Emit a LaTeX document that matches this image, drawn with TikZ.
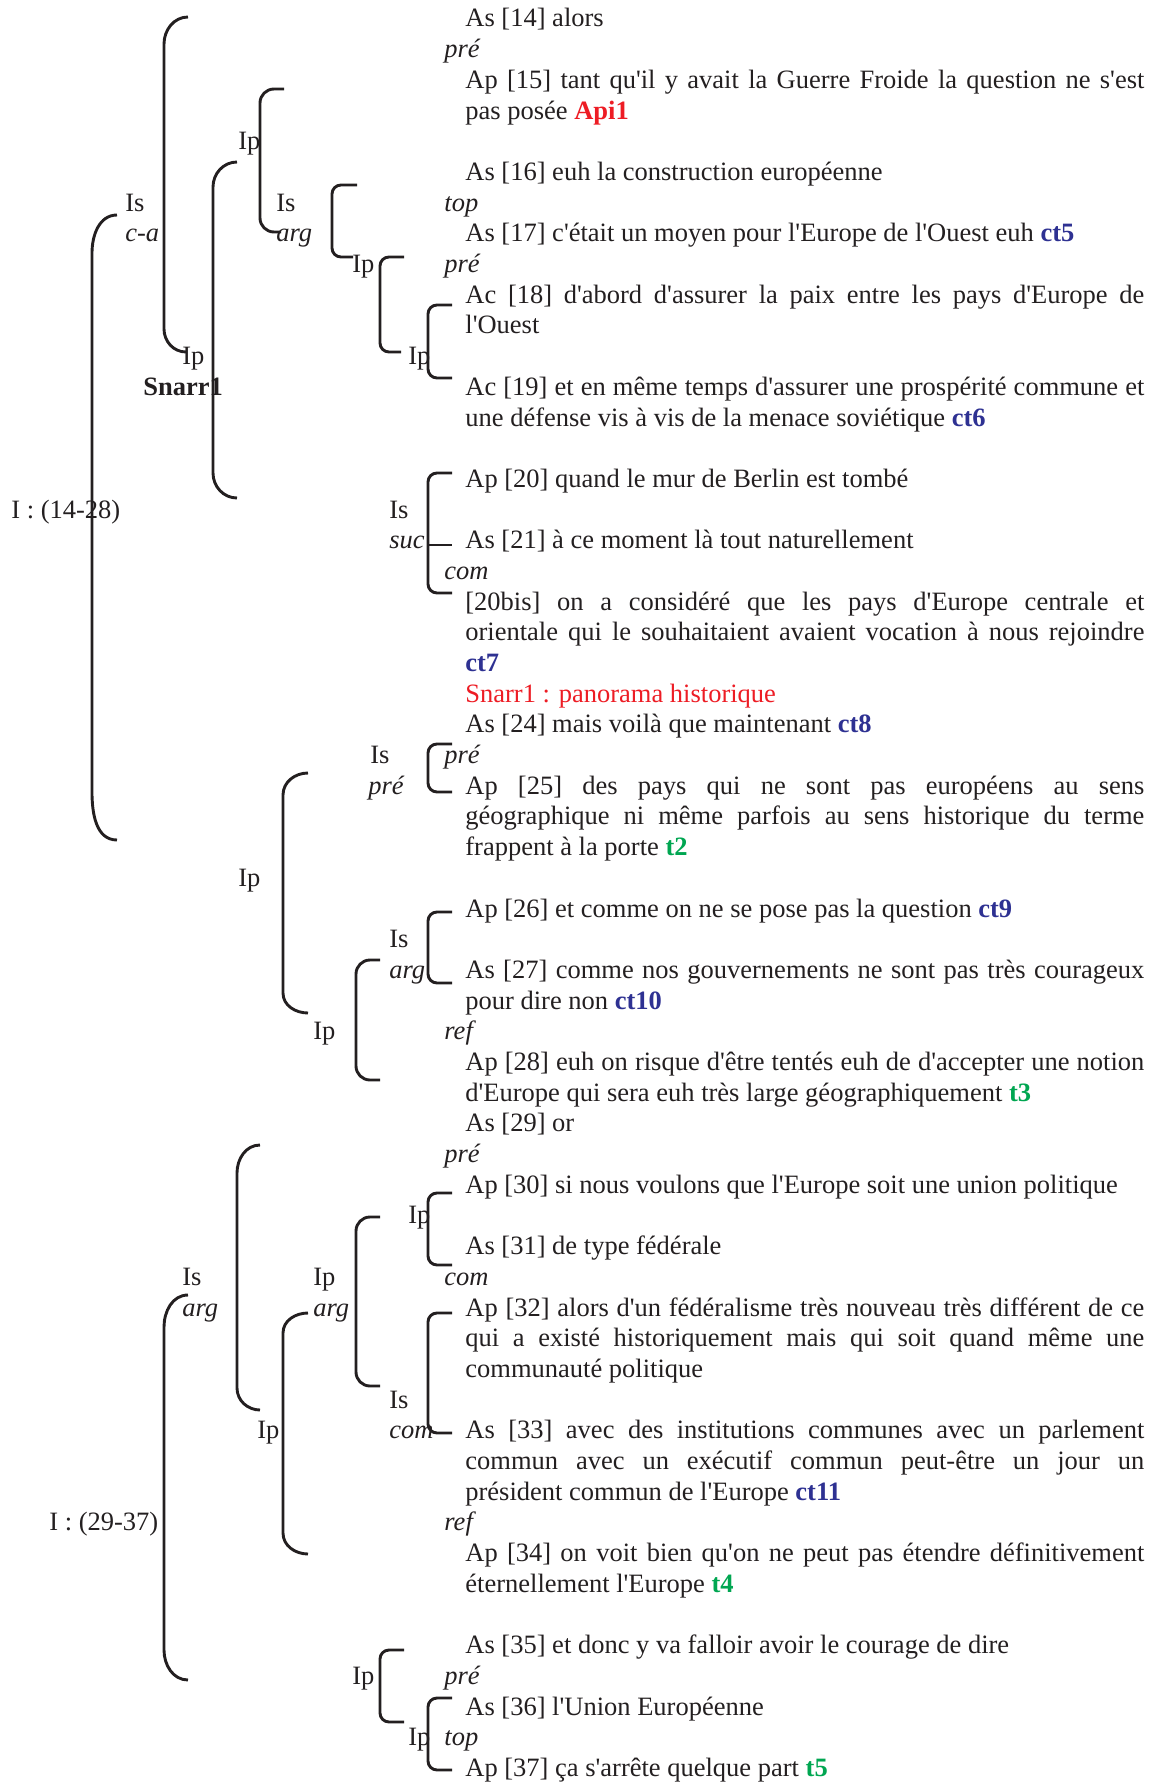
\documentclass[tikz,border=0pt]{standalone}
\usepackage{fontspec}
\setmainfont{Liberation Serif}[Ligatures=TeXOff]
\usepackage{xcolor}
\usepackage{tikz}
\definecolor{ink}{RGB}{35, 31, 32}
\definecolor{markred}{RGB}{237, 28, 36}
\definecolor{markblue}{RGB}{46, 49, 146}
\definecolor{markgreen}{RGB}{0, 166, 81}
\newcommand{\seg}{\fontsize{13.25pt}{15.35pt}\selectfont}
\newcommand{\ct}[1]{\textcolor{markblue}{\textbf{#1}}}
\newcommand{\tg}[1]{\textcolor{markgreen}{\textbf{#1}}}
\newcommand{\justline}[1]{\makebox[339.5pt][s]{#1}}

\begin{document}
\begin{tikzpicture}[
  x=0.5pt, y=-0.5pt,
  txt/.style={anchor=base west, inner sep=0pt, text=ink, font=\seg},
  rel/.style={txt, font=\seg\itshape},
  lab/.style={txt},
  brk/.style={draw=ink, line width=1.45pt},
  brkM/.style={brk, rounded corners=7pt},
  brkS/.style={brk, rounded corners=4.5pt}
]
\useasboundingbox (0,0) rectangle (1157,1782);

% Segments, I : (14-28)
\node[txt] (s14) at (465,27) {As [14] alors};
\node[rel] (r15) at (444,57.7) {pré};
\node[txt] (s15a) at (465,88.4) {\justline{Ap [15] tant qu'il y avait la Guerre Froide la question ne s'est}};
\node[txt] (s15b) at (465,119.1) {pas posée \textcolor{markred}{\textbf{Api1}}};
\node[txt] (s16) at (465,180.5) {As [16] euh la construction européenne};
\node[rel] (r17) at (444,211.1) {top};
\node[txt] (s17) at (465,241.8) {As [17] c'était un moyen pour l'Europe de l'Ouest euh \ct{ct5}};
\node[rel] (r18) at (444,272.5) {pré};
\node[txt] (s18a) at (465,303.2) {\justline{Ac [18] d'abord d'assurer la paix entre les pays d'Europe de}};
\node[txt] (s18b) at (465,333.9) {l'Ouest};
\node[txt] (s19a) at (465,395.3) {\justline{Ac [19] et en même temps d'assurer une prospérité commune et}};
\node[txt] (s19b) at (465,426) {une défense vis à vis de la menace soviétique \ct{ct6}};
\node[txt] (s20) at (465,487.4) {Ap [20] quand le mur de Berlin est tombé};
\node[txt] (s21) at (465,548.7) {As [21] à ce moment là tout naturellement};
\node[rel] (r20b) at (444,579.4) {com};
\node[txt] (s20ba) at (465,610.1) {\justline{[20bis] on a considéré que les pays d'Europe centrale et}};
\node[txt] (s20bb) at (465,640.8) {\justline{orientale qui le souhaitaient avaient vocation à nous rejoindre}};
\node[txt] (s20bc) at (465,671.5) {\ct{ct7}};
\node[txt, text=markred] (snarr) at (465,702.2) {Snarr1 : panorama historique};
\node[txt] (s24) at (465,732.9) {As [24] mais voilà que maintenant \ct{ct8}};
\node[rel] (r25) at (444,763.6) {pré};
\node[txt] (s25a) at (465,794.3) {\justline{Ap [25] des pays qui ne sont pas européens au sens}};
\node[txt] (s25b) at (465,824.9) {\justline{géographique ni même parfois au sens historique du terme}};
\node[txt] (s25c) at (465,855.6) {frappent à la porte \tg{t2}};
\node[txt] (s26) at (465,917) {Ap [26] et comme on ne se pose pas la question \ct{ct9}};
\node[txt] (s27a) at (465,978.4) {\justline{As [27] comme nos gouvernements ne sont pas très courageux}};
\node[txt] (s27b) at (465,1009.1) {pour dire non \ct{ct10}};
\node[rel] (r28) at (444,1039.8) {ref};
\node[txt] (s28a) at (465,1070.5) {\justline{Ap [28] euh on risque d'être tentés euh de d'accepter une notion}};
\node[txt] (s28b) at (465,1101.2) {d'Europe qui sera euh très large géographiquement \tg{t3}};

% Segments, I : (29-37)
\node[txt] (s29) at (465,1131.8) {As [29] or};
\node[rel] (r30) at (444,1162.5) {pré};
\node[txt] (s30) at (465,1193.2) {Ap [30] si nous voulons que l'Europe soit une union politique};
\node[txt] (s31) at (465,1254.6) {As [31] de type fédérale};
\node[rel] (r32) at (444,1285.3) {com};
\node[txt] (s32a) at (465,1316) {\justline{Ap [32] alors d'un fédéralisme très nouveau très différent de ce}};
\node[txt] (s32b) at (465,1346.7) {\justline{qui a existé historiquement mais qui soit quand même une}};
\node[txt] (s32c) at (465,1377.4) {communauté politique};
\node[txt] (s33a) at (465,1438.7) {\justline{As [33] avec des institutions communes avec un parlement}};
\node[txt] (s33b) at (465,1469.4) {\justline{commun avec un exécutif commun peut-être un jour un}};
\node[txt] (s33c) at (465,1500.1) {président commun de l'Europe \ct{ct11}};
\node[rel] (r34) at (444,1530.8) {ref};
\node[txt] (s34a) at (465,1561.5) {\justline{Ap [34] on voit bien qu'on ne peut pas étendre définitivement}};
\node[txt] (s34b) at (465,1592.2) {éternellement l'Europe \tg{t4}};
\node[txt] (s35) at (465,1653.6) {As [35] et donc y va falloir avoir le courage de dire};
\node[rel] (r36) at (444,1684.3) {pré};
\node[txt] (s36) at (465,1715) {As [36] l'Union Européenne};
\node[rel] (r37) at (444,1745.6) {top};
\node[txt] (s37) at (465,1776.3) {Ap [37] ça s'arrête quelque part \tg{t5}};

% Tree labels
\node[lab] (ia) at (11,518) {I : (14-28)};
\node[lab] (isca) at (125,211.1) {Is};
\node[rel] (ca) at (125,241.8) {c-a};
\node[lab] (ipa) at (238,149.8) {Ip};
\node[lab] (isarga) at (276,211.1) {Is};
\node[rel] (arga) at (276,241.8) {arg};
\node[lab] (ipb) at (352,272.5) {Ip};
\node[lab] (ipc) at (408,364.6) {Ip};
\node[lab] (ipd) at (182,364.6) {Ip};
\node[lab, font=\seg\bfseries] (snarrlab) at (143,395.3) {Snarr1};
\node[lab] (issuc) at (389,518) {Is};
\node[rel] (suc) at (389,548.7) {suc};
\node[lab] (ispre) at (370,763.6) {Is};
\node[rel] (pre) at (368,794.3) {pré};
\node[lab] (ipe) at (238,886.3) {Ip};
\node[lab] (isargb) at (389,947.7) {Is};
\node[rel] (argb) at (389,978.4) {arg};
\node[lab] (ipf) at (313,1039.8) {Ip};
\node[lab] (ib) at (49,1530.8) {I : (29-37)};
\node[lab] (ipg) at (408,1223.9) {Ip};
\node[lab] (isargc) at (182,1285.3) {Is};
\node[rel] (argc) at (182,1316) {arg};
\node[lab] (ipargd) at (313,1285.3) {Ip};
\node[rel] (argd) at (313,1316) {arg};
\node[lab] (iscom) at (389,1408) {Is};
\node[rel] (com) at (389,1438.7) {com};
\node[lab] (iph) at (257,1438.7) {Ip};
\node[lab] (ipi) at (352,1684.3) {Ip};
\node[lab] (ipj) at (408,1745.6) {Ip};

% Brackets - first intervention
\draw[brk] (117,215) to[out=180, in=90] (92,253) -- (92,792) to[out=-90, in=180] (117,840);
\draw[brk] (188,17) to[out=180, in=90] (164,44) -- (164,329) to[out=-90, in=180] (186,352);
\draw[brkM] (284,89) -- (260,89) -- (260,232) -- (281,232);
\draw[brk] (237,162) to[out=180, in=90] (213,187) -- (213,473) to[out=-90, in=180] (237,498);
\draw[brkS] (357,185) -- (332,185) -- (332,257) -- (353,257);
\draw[brkS] (404,257) -- (380,257) -- (380,352) -- (401,352);
\draw[brkS] (452,305) -- (428,305) -- (428,378) -- (452,378);
\draw[brkS] (452,473) -- (428,473) -- (428,593) -- (452,593);
\draw[brk] (428,545) -- (452,545);
\draw[brkS] (452,744) -- (428,744) -- (428,792) -- (452,792);
\draw[brk] (308,773) to[out=180, in=90] (283,795) -- (283,993) to[out=-90, in=180] (308,1013);
\draw[brkS] (452,912) -- (428,912) -- (428,983) -- (452,983);
\draw[brkM] (380,960) -- (356,960) -- (356,1080) -- (380,1080);

% Brackets - second intervention
\draw[brk] (260,1145) to[out=180, in=90] (237,1173) -- (237,1388) to[out=-90, in=180] (260,1410);
\draw[brkS] (452,1193) -- (428,1193) -- (428,1265) -- (452,1265);
\draw[brkM] (380,1217) -- (356,1217) -- (356,1386) -- (380,1386);
\draw[brkS] (452,1313) -- (428,1313) -- (428,1433) -- (452,1433);
\draw[brk] (188,1295) to[out=180, in=90] (164,1327) -- (164,1650) to[out=-90, in=180] (188,1680);
\draw[brk] (308,1313) to[out=180, in=90] (283,1333) -- (283,1533) to[out=-90, in=180] (308,1554);
\draw[brkS] (404,1650) -- (380,1650) -- (380,1722) -- (404,1722);
\draw[brkS] (452,1698) -- (428,1698) -- (428,1770) -- (452,1770);

\end{tikzpicture}
\end{document}
